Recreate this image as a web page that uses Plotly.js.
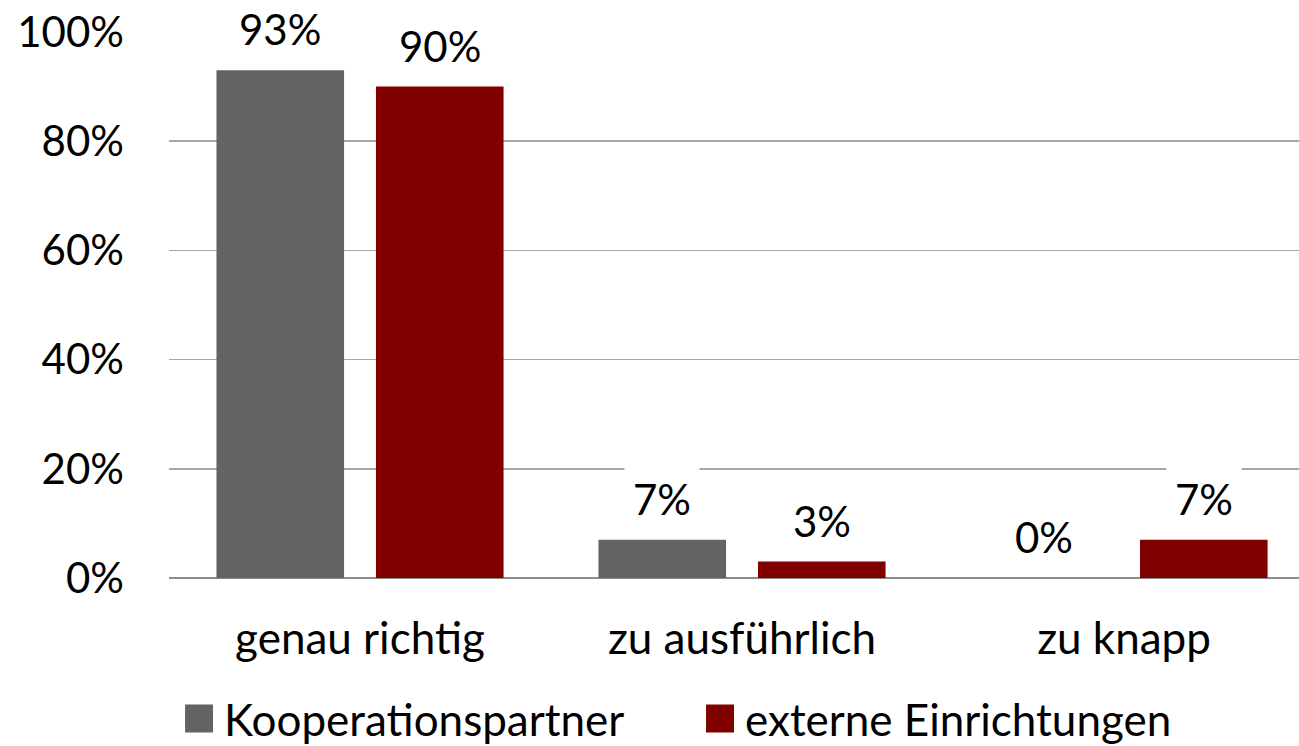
<!DOCTYPE html>
<html><head><meta charset="utf-8">
<script src="https://cdn.plot.ly/plotly-3.0.1.min.js"></script>
<style>
html,body{margin:0;background:#fff;overflow:hidden}
.legend .legendpoints path{transform:translate(15px,0) scale(2.33)}
</style>
</head><body>
<div id="chart" style="width:1299px;height:770px"></div>
<script>
const categories = ['genau richtig', 'zu ausführlich', 'zu knapp'];
const seriesNames = ['Kooperationspartner', 'externe Einrichtungen'];
const kooperationspartner = [0.93, 0.07, 0.00];
const externeEinrichtungen = [0.90, 0.03, 0.07];
const yTickValues = [0, 0.2, 0.4, 0.6, 0.8, 1.0];
const yTickLabels = ['0%', '20%', '40%', '60%', '80%', '100%'];
const seriesColors = ['#636363', '#800000'];

const FONT = 'Lato, "Liberation Sans", sans-serif';
const FS_NUM = 42;
const FS_TXT = 44;
const bargap = 0.165;
const bargroupgap = 0.2;
const series = [kooperationspartner, externeEinrichtungen];

const traces = series.map((vals, i) => ({
  type: 'bar',
  name: seriesNames[i],
  x: categories,
  y: vals,
  marker: {color: seriesColors[i], line: {width: 0}},
  hoverinfo: 'skip'
}));

const slotHalf = (1 - bargap) / 4;
const annotations = [];
series.forEach((vals, i) => {
  vals.forEach((v, j) => {
    annotations.push({
      xref: 'x', yref: 'y',
      x: j + (i === 0 ? -slotHalf : slotHalf),
      y: v,
      text: Math.round(v * 100) + '%',
      showarrow: false,
      yanchor: 'middle',
      yshift: 41,
      bgcolor: '#ffffff',
      borderpad: 8,
      font: {family: FONT, size: FS_NUM, color: '#000'}
    });
  });
});

const layout = {
  width: 1299, height: 770,
  margin: {l: 169, r: 0, t: 32, b: 192},
  paper_bgcolor: '#fff', plot_bgcolor: '#fff',
  barmode: 'group', bargap: bargap, bargroupgap: bargroupgap,
  font: {family: FONT, size: FS_TXT, color: '#000'},
  xaxis: {
    type: 'category',
    range: [-0.5, 2.458],
    showgrid: false, zeroline: false,
    showline: false,
    ticks: '', ticklabelstandoff: 31,
    tickfont: {family: FONT, size: FS_TXT, color: '#000'},
    fixedrange: true
  },
  yaxis: {
    range: [0, 1],
    tickvals: yTickValues, ticktext: yTickLabels,
    showgrid: true, gridcolor: '#a6a6a6', gridwidth: 1.5,
    zeroline: true, zerolinecolor: '#8c8c8c', zerolinewidth: 2,
    showline: false, ticks: '',
    ticklabelstandoff: 44,
    tickfont: {family: FONT, size: FS_NUM, color: '#000'},
    fixedrange: true
  },
  showlegend: true,
  legend: {
    orientation: 'h',
    x: 0.0133, xanchor: 'left',
    y: -0.258, yanchor: 'middle',
    font: {family: FONT, size: FS_TXT, color: '#000'},
    entrywidth: 476,
    traceorder: 'normal'
  },
  annotations: annotations
};

Plotly.newPlot('chart', traces, layout, {displayModeBar: false, staticPlot: true});
</script>
</body></html>
